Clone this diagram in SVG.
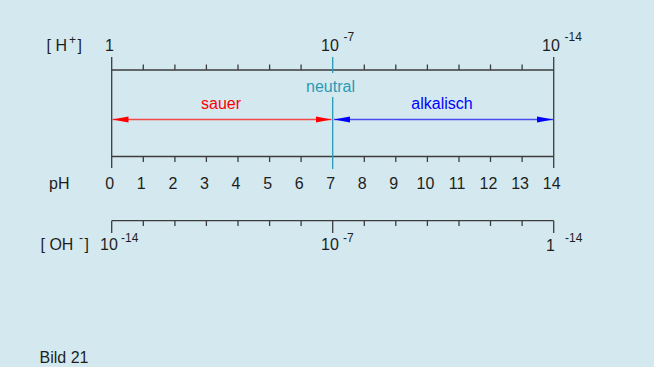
<svg xmlns="http://www.w3.org/2000/svg" width="654" height="367" viewBox="0 0 654 367">
<defs>
<style>
.ax{stroke:#3c3c3c;stroke-width:1.3;fill:none}
.t{font-family:"Liberation Sans",Arial,sans-serif;font-size:16px;fill:#1e1e1e}
.s{font-family:"Liberation Sans",Arial,sans-serif;font-size:12px;fill:#1e1e1e}
.c{text-anchor:middle}
</style>
<marker id="ar" markerUnits="userSpaceOnUse" markerWidth="17" markerHeight="7" refX="16" refY="3.5" orient="auto-start-reverse"><path d="M0,0.5 L16,3.5 L0,6.5 z" fill="#ff0000"/></marker>
<marker id="ab" markerUnits="userSpaceOnUse" markerWidth="17" markerHeight="7" refX="16" refY="3.5" orient="auto-start-reverse"><path d="M0,0.5 L16,3.5 L0,6.5 z" fill="#0000ff"/></marker>
</defs>
<rect width="654" height="367" fill="#d4e9ef"/>
<g id="h-axis">
<path class="ax" d="M111.7,70 H553.7 M111.7,57 V168 M553.7,57 V168 M143.3,64.5V70 M174.9,64.5V70 M206.4,64.5V70 M238,64.5V70 M269.6,64.5V70 M301.1,64.5V70 M364.3,64.5V70 M395.8,64.5V70 M427.4,64.5V70 M459,64.5V70 M490.5,64.5V70 M522.1,64.5V70"/>
<text class="t" x="46.5" y="51">[ H</text><text class="s" x="69" y="44">+</text><text class="t" x="77.5" y="51">]</text>
<text class="t" x="105" y="51">1</text>
<text class="t" x="321" y="51">10</text><text class="s" x="343.5" y="41">-7</text>
<text class="t" x="542" y="51">10</text><text class="s" x="564.5" y="41">-14</text>
</g>
<g id="ph-axis">
<path class="ax" d="M111.7,156.5 H553.7 M143.3,156.5V162 M174.9,156.5V162 M206.4,156.5V162 M238,156.5V162 M269.6,156.5V162 M301.1,156.5V162 M364.3,156.5V162 M395.8,156.5V162 M427.4,156.5V162 M459,156.5V162 M490.5,156.5V162 M522.1,156.5V162"/>
<text class="t" x="49" y="189">pH</text>
<g class="t c">
<text x="109.7" y="189">0</text><text x="141.3" y="189">1</text><text x="172.9" y="189">2</text><text x="204.4" y="189">3</text><text x="236" y="189">4</text><text x="267.6" y="189">5</text><text x="299.1" y="189">6</text><text x="330.7" y="189">7</text><text x="362.3" y="189">8</text><text x="393.8" y="189">9</text><text x="425.4" y="189">10</text><text x="457" y="189">11</text><text x="488.5" y="189">12</text><text x="520.1" y="189">13</text><text x="551.7" y="189">14</text>
</g>
</g>
<g id="neutral">
<path d="M332.7,57 V73 M332.7,97 V169" stroke="#2a9ab5" stroke-width="1.3" fill="none"/>
<text class="t c" x="330.5" y="92" style="fill:#2a9ab5">neutral</text>
</g>
<g id="connectors">
<line x1="112.5" y1="119.5" x2="331.5" y2="119.5" stroke="#f24a4a" stroke-width="1.6" marker-start="url(#ar)" marker-end="url(#ar)"/>
<line x1="334" y1="119.5" x2="553" y2="119.5" stroke="#4a4af2" stroke-width="1.6" marker-start="url(#ab)" marker-end="url(#ab)"/>
</g>
<g id="sauer"><text class="t c" x="221" y="109" style="fill:#ff0000">sauer</text></g>
<g id="alkalisch"><text class="t c" x="442" y="109" style="fill:#0000ff">alkalisch</text></g>
<g id="oh-axis">
<path class="ax" d="M111.7,220.7 H553.7 M111.7,220.7V233 M332.7,220.7V233 M553.7,220.7V233 M143.3,220.7V226 M174.9,220.7V226 M206.4,220.7V226 M238,220.7V226 M269.6,220.7V226 M301.1,220.7V226 M364.3,220.7V226 M395.8,220.7V226 M427.4,220.7V226 M459,220.7V226 M490.5,220.7V226 M522.1,220.7V226"/>
<text class="t" x="40.5" y="250">[ OH</text><text class="s" x="79" y="242">-</text><text class="t" x="84.5" y="250">]</text>
<text class="t" x="100" y="250">10</text><text class="s" x="121" y="242">-14</text>
<text class="t" x="321" y="250">10</text><text class="s" x="343" y="242">-7</text>
<text class="t" x="546" y="251">1</text><text class="s" x="565" y="242">-14</text>
</g>
<text class="t" x="39.5" y="363">Bild 21</text>
</svg>
